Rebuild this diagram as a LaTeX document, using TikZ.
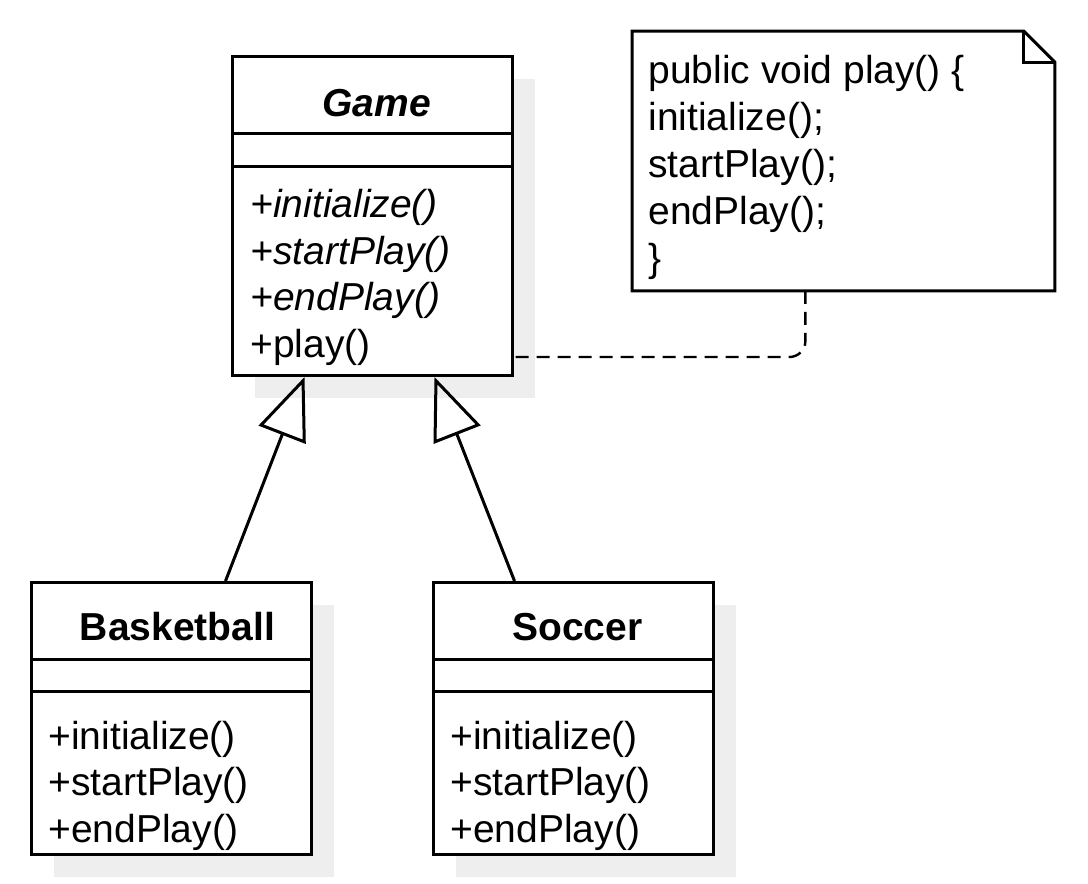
\documentclass[tikz,border=0pt]{standalone}
\usepackage{fontspec}
\setmainfont{Liberation Sans}
\usetikzlibrary{arrows.meta,positioning,shadows,calc}
\definecolor{cShadow}{RGB}{238,238,238}
\tikzset{
  cls/.style={draw=black, line width=1.5pt, fill=white, inner sep=0pt,
              minimum width=140pt, anchor=north west,
              general shadow={fill=cShadow, shadow xshift=11pt, shadow yshift=-11pt}},
  sep/.style={line width=1.5pt},
  ctitle/.style={font=\fontsize{19.5pt}{23.25pt}\selectfont\bfseries, inner sep=0pt, anchor=base},
  ops/.style={font=\fontsize{19.5pt}{23.25pt}\selectfont, align=left, inner sep=0pt, anchor=base west},
  notebox/.style={inner sep=0pt, minimum width=211pt, minimum height=129.5pt, anchor=north west},
  notetxt/.style={font=\fontsize{19.5pt}{23.5pt}\selectfont, align=left, inner sep=0pt, anchor=base west},
  gen/.style={-{Triangle[open, length=31pt, width=25pt]}, line width=1.5pt, line join=miter},
  dep/.style={line width=1.2pt, dash pattern=on 6.5pt off 4pt, rounded corners=8pt},
}

\begin{document}
\begin{tikzpicture}[x=0.5pt, y=-0.5pt]
  \useasboundingbox (0,0) rectangle (1088,884);

  % classes
  \node[cls, minimum height=159.5pt] (game)   at (231,55)  {};
  \node[cls, minimum height=136pt]   (basket) at (30,581)  {};
  \node[cls, minimum height=136pt]   (soccer) at (432,581) {};

  \foreach \c/\b in {game/55.5pt, basket/55pt, soccer/55pt} {
    \draw[sep] ([yshift=-39pt]\c.north west) -- ([yshift=-39pt]\c.north east);
    \draw[sep] ([yshift=-\b]\c.north west) -- ([yshift=-\b]\c.north east);
  }

  \node[ctitle] (gameT)   at ([xshift=2pt, yshift=-30.5pt]game.north)   {\itshape Game};
  \node[ctitle] (basketT) at ([xshift=3pt, yshift=-29.5pt]basket.north) {Basketball};
  \node[ctitle] (soccerT) at ([xshift=2pt, yshift=-29.5pt]soccer.north) {Soccer};

  % the base anchor sits on the last line
  \node[ops] (gameOps) at ([xshift=9.5pt, yshift=-151pt]game.north west)
    {\itshape +initialize()\\ \itshape +startPlay()\\ \itshape +endPlay()\\ +play()};
  \node[ops] (basketOps) at ([xshift=9pt, yshift=-130.5pt]basket.north west)
    {+initialize()\\ +startPlay()\\ +endPlay()};
  \node[ops] (soccerOps) at ([xshift=9pt, yshift=-130.5pt]soccer.north west)
    {+initialize()\\ +startPlay()\\ +endPlay()};

  % note
  \node[notebox] (note) at (632,31) {};
  \draw[sep] (note.north west) -- ([xshift=-15.5pt]note.north east)
    -- ([yshift=-15.5pt]note.north east) -- (note.south east) -- (note.south west) -- cycle;
  \draw[sep] ([xshift=-15.5pt]note.north east) |- ([yshift=-15.5pt]note.north east);
  \node[notetxt] (noteT) at ([xshift=8pt, yshift=-120pt]note.north west)
    {public void play() \{\\ initialize();\\ startPlay();\\ endPlay();\\ \}};

  % connectors
  \draw[gen] ([xshift=27pt]basket.north) -- ([xshift=-34pt]game.south);
  \draw[gen] ([xshift=-29.5pt]soccer.north) -- ([xshift=31pt]game.south);
  \draw[dep] ([xshift=-19pt]note.south) |- ([yshift=10pt]game.south east);
\end{tikzpicture}
\end{document}
